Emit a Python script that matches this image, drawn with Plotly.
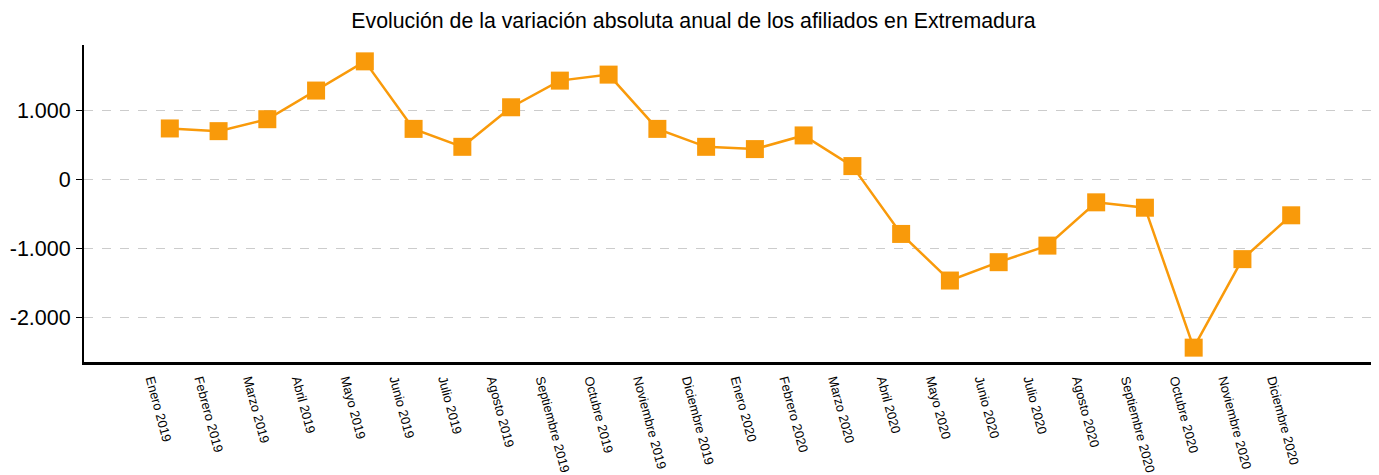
import plotly.graph_objects as go

categories = [
    "Enero 2019", "Febrero 2019", "Marzo 2019", "Abril 2019", "Mayo 2019", "Junio 2019",
    "Julio 2019", "Agosto 2019", "Septiembre 2019", "Octubre 2019", "Noviembre 2019", "Diciembre 2019",
    "Enero 2020", "Febrero 2020", "Marzo 2020", "Abril 2020", "Mayo 2020", "Junio 2020",
    "Julio 2020", "Agosto 2020", "Septiembre 2020", "Octubre 2020", "Noviembre 2020", "Diciembre 2020",
]
values = [
    733, 694, 867, 1282, 1705, 727,
    467, 1040, 1426, 1513, 727, 467,
    434, 632, 188, -795, -1470, -1204,
    -964, -337, -415, -2442, -1160, -525,
]
y_tickvals = [-2000, -1000, 0, 1000]
y_ticktext = ["-2.000", "-1.000", "0", "1.000"]

x_idx = list(range(len(categories)))
color = "#F99A0A"

fig = go.Figure()
fig.add_trace(go.Scatter(
    x=x_idx, y=values, mode="lines+markers",
    line=dict(color=color, width=2.5),
    marker=dict(symbol="square", size=18, color=color),
    showlegend=False, cliponaxis=False,
))

# page body has an 8px margin; figure is sized to fit the remaining window
fig.update_layout(
    width=1371, height=467,
    margin=dict(l=76, r=2, t=37, b=113),
    paper_bgcolor="white", plot_bgcolor="white",
    font=dict(family="Liberation Sans, Arial, sans-serif", color="black"),
    title=dict(
        text="Evolución de la variación absoluta anual de los afiliados en Extremadura",
        x=0.5, xanchor="center", y=0.974, yanchor="middle",
        font=dict(size=21.3, color="black"),
    ),
)
fig.update_xaxes(
    range=[-1.76, 24.76],
    tickmode="array", tickvals=x_idx, ticktext=categories,
    tickangle=75, tickfont=dict(size=13),
    ticklabelshift=-18, ticklabelstandoff=2,
    showgrid=False, zeroline=False,
    showline=True, linecolor="black", linewidth=3,
    ticks="", ticklen=0,
)
fig.update_yaxes(
    range=[-2650, 1942],
    tickmode="array", tickvals=y_tickvals, ticktext=y_ticktext,
    tickfont=dict(size=21.5), ticklabelstandoff=1,
    showgrid=True, gridcolor="#cccccc", griddash="dash", gridwidth=1,
    zeroline=False,
    showline=True, linecolor="black", linewidth=2,
    ticks="outside", ticklen=6, tickcolor="black", tickwidth=1,
)

fig.write_html("out.html")
